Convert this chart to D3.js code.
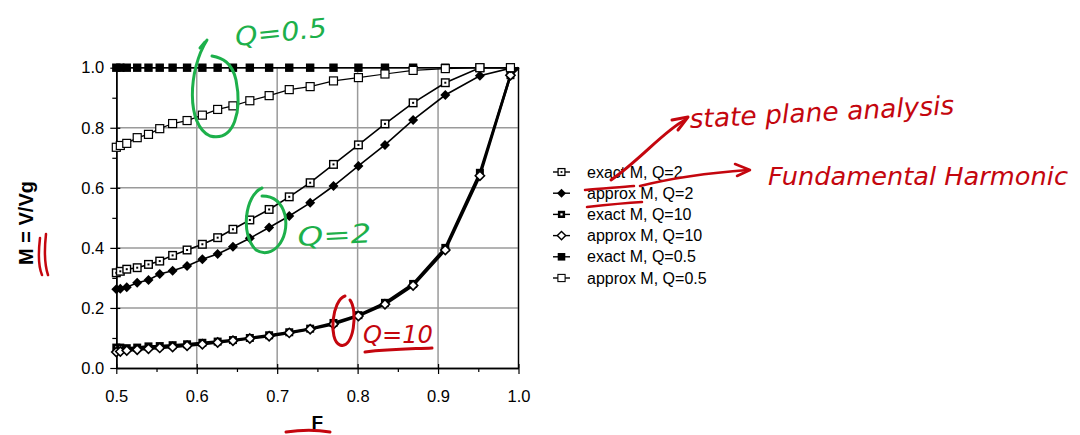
<!DOCTYPE html>
<html>
<head>
<meta charset="utf-8">
<script src="https://cdn.jsdelivr.net/npm/d3@7"></script>
<style>
  body { margin: 0; background: #fff; }
  svg { display: block; font-family: "Liberation Sans", Arial, sans-serif; }
  .hand { font-family: "DejaVu Sans", sans-serif; font-style: italic; }
</style>
</head>
<body>
<div id="chart"></div>
<script>
// normalized switching frequency F
var fValues = [0.500, 0.505, 0.513, 0.526, 0.540, 0.554, 0.570, 0.588, 0.607, 0.626, 0.645,
               0.666, 0.690, 0.715, 0.741, 0.770, 0.801, 0.834, 0.869, 0.909, 0.952, 0.990];

var exactQ2  = [0.317, 0.322, 0.329, 0.334, 0.345, 0.356, 0.375, 0.393, 0.412, 0.434, 0.462,
                0.493, 0.528, 0.570, 0.617, 0.678, 0.743, 0.813, 0.883, 0.950, 1.000, 1.000];
var approxQ2 = [0.262, 0.264, 0.269, 0.284, 0.293, 0.313, 0.324, 0.340, 0.362, 0.380, 0.404,
                0.432, 0.468, 0.506, 0.550, 0.606, 0.673, 0.743, 0.826, 0.909, 0.973, 0.998];
var exactQ10 = [0.068, 0.068, 0.066, 0.068, 0.072, 0.073, 0.076, 0.079, 0.084, 0.088, 0.093,
                0.100, 0.109, 0.119, 0.131, 0.150, 0.176, 0.217, 0.280, 0.400, 0.650, 0.975];
var approxQ10 = [0.053, 0.055, 0.058, 0.061, 0.064, 0.067, 0.070, 0.074, 0.079, 0.085, 0.091,
                 0.098, 0.106, 0.117, 0.129, 0.146, 0.173, 0.212, 0.275, 0.393, 0.640, 0.975];
var exactQ05 = [1, 1, 1, 1, 1, 1, 1, 1, 1, 1, 1, 1, 1, 1, 1, 1, 1, 1, 1, 1, 1, 1];
var approxQ05 = [0.735, 0.741, 0.748, 0.767, 0.778, 0.797, 0.814, 0.824, 0.842, 0.861, 0.873,
                 0.890, 0.907, 0.927, 0.937, 0.956, 0.967, 0.979, 0.991, 0.997, 1.000, 1.000];

var seriesNames = ["exact M, Q=2", "approx M, Q=2", "exact M, Q=10", "approx M, Q=10",
                   "exact M, Q=0.5", "approx M, Q=0.5"];
var xTicks = [0.5, 0.6, 0.7, 0.8, 0.9, 1.0];
var yTicks = [0.0, 0.2, 0.4, 0.6, 0.8, 1.0];

var W = 1080, H = 435;
var m = {left: 116.3, right: 518.5, top: 67.7, bottom: 368};

var svg = d3.select("#chart").append("svg").attr("width", W).attr("height", H);

var x = d3.scaleLinear().domain([0.5, 1.0]).range([m.left, m.right]);
var y = d3.scaleLinear().domain([0, 1]).range([m.bottom, m.top]);

// grid
var grid = svg.append("g");
grid.selectAll("line.gx").data(xTicks.slice(1)).enter().append("line")
    .attr("x1", d => x(d)).attr("x2", d => x(d))
    .attr("y1", m.top).attr("y2", m.bottom)
    .attr("stroke", "#9a9a9a").attr("stroke-width", 1.5);
grid.selectAll("line.gy").data(yTicks.slice(1)).enter().append("line")
    .attr("x1", m.left).attr("x2", m.right)
    .attr("y1", d => y(d)).attr("y2", d => y(d))
    .attr("stroke", "#9a9a9a").attr("stroke-width", 1.5);

// frame (right & top)
svg.append("path")
    .attr("d", "M" + m.left + "," + m.top + "H" + m.right + "V" + m.bottom)
    .attr("fill", "none").attr("stroke", "#000").attr("stroke-width", 1.3);

// axes
var xAxis = svg.append("g").attr("transform", "translate(0," + m.bottom + ")")
    .call(d3.axisBottom(x).tickValues(xTicks).tickFormat(d3.format(".1f")).tickSizeInner(6).tickSizeOuter(0));
var xMinor = svg.append("g").attr("transform", "translate(0," + m.bottom + ")")
    .call(d3.axisBottom(x).tickValues([0.55, 0.65, 0.75, 0.85, 0.95]).tickFormat("").tickSizeInner(4).tickSizeOuter(0));
var yAxis = svg.append("g").attr("transform", "translate(" + m.left + ",0)")
    .call(d3.axisLeft(y).tickValues(yTicks).tickFormat(d3.format(".1f")).tickSizeInner(6).tickSizeOuter(0));
var yMinor = svg.append("g").attr("transform", "translate(" + m.left + ",0)")
    .call(d3.axisLeft(y).tickValues([0.1, 0.3, 0.5, 0.7, 0.9]).tickFormat("").tickSizeInner(4).tickSizeOuter(0));

[xAxis, xMinor, yAxis, yMinor].forEach(function(a) {
    a.attr("font-size", null).attr("font-family", null);
    a.select(".domain").attr("stroke", "#000").attr("stroke-width", 1.5);
    a.selectAll(".tick line").attr("stroke", "#000").attr("stroke-width", 1.2);
    a.selectAll("text").style("font-size", "16.5px").attr("fill", "#000")
        .style("font-family", "Liberation Sans, Arial, sans-serif");
});
// major ticks cross the axis
xAxis.selectAll(".tick line").attr("y1", -4);
yAxis.selectAll(".tick line").attr("x1", 4);
xAxis.selectAll("text").attr("y", 22);
yAxis.selectAll("text").attr("x", -12);

// axis titles
svg.append("text").attr("x", x(0.75)).attr("y", 429).attr("text-anchor", "middle")
    .style("font-size", "19px").attr("font-weight", "bold").text("F");
svg.append("text").attr("transform", "translate(33,223) rotate(-90)")
    .attr("text-anchor", "middle").style("font-size", "20px").attr("font-weight", "bold").text("M = V/Vg");

// marker drawing
function drawMarker(g, type) {
    if (type === "sqDot") {
        g.append("rect").attr("x", -3.8).attr("y", -3.8).attr("width", 7.6).attr("height", 7.6)
            .attr("fill", "#fff").attr("stroke", "#000").attr("stroke-width", 1.4);
        g.append("rect").attr("x", -1).attr("y", -1).attr("width", 2).attr("height", 2).attr("fill", "#000");
    } else if (type === "diaFill") {
        g.append("path").attr("d", "M0,-5L5,0L0,5L-5,0Z").attr("fill", "#000");
    } else if (type === "sqBlackDot") {
        g.append("rect").attr("x", -4).attr("y", -4).attr("width", 8).attr("height", 8).attr("fill", "#000");
        g.append("rect").attr("x", -1.2).attr("y", -1.2).attr("width", 2.4).attr("height", 2.4).attr("fill", "#fff");
    } else if (type === "diaOpen") {
        g.append("path").attr("d", "M0,-4.6L4.6,0L0,4.6L-4.6,0Z")
            .attr("fill", "#fff").attr("stroke", "#000").attr("stroke-width", 1.6);
    } else if (type === "sqFill") {
        g.append("rect").attr("x", -4.2).attr("y", -4.2).attr("width", 8.4).attr("height", 8.4).attr("fill", "#000");
    } else if (type === "sqOpen") {
        g.append("rect").attr("x", -4).attr("y", -4).attr("width", 8).attr("height", 8)
            .attr("fill", "#fff").attr("stroke", "#000").attr("stroke-width", 1.2);
    }
}

var series = [
    {name: seriesNames[2], vals: exactQ10, marker: "sqBlackDot", lw: 2.6},
    {name: seriesNames[3], vals: approxQ10, marker: "diaOpen", lw: 2.6},
    {name: seriesNames[0], vals: exactQ2, marker: "sqDot", lw: 1.6},
    {name: seriesNames[1], vals: approxQ2, marker: "diaFill", lw: 1.6},
    {name: seriesNames[4], vals: exactQ05, marker: "sqFill", lw: 1.6},
    {name: seriesNames[5], vals: approxQ05, marker: "sqOpen", lw: 1.2}
];

var line = d3.line().x(d => x(d[0])).y(d => y(d[1]));
var plot = svg.append("g");
series.forEach(function(s) {
    var pts = fValues.map((f, i) => [f, s.vals[i]]);
    pts.push([1.0, 1.0]);
    plot.append("path").datum(pts).attr("d", line)
        .attr("fill", "none").attr("stroke", "#000").attr("stroke-width", s.lw);
});
series.forEach(function(s) {
    fValues.forEach(function(f, i) {
        var g = plot.append("g").attr("transform", "translate(" + x(f) + "," + y(s.vals[i]) + ")");
        drawMarker(g, s.marker);
    });
});

// legend
var legendMarkers = ["sqDot", "diaFill", "sqBlackDot", "diaOpen", "sqFill", "sqOpen"];
var legend = svg.append("g").attr("transform", "translate(553,172)");
seriesNames.forEach(function(n, i) {
    var row = legend.append("g").attr("transform", "translate(0," + (i * 21.2) + ")");
    row.append("line").attr("x1", 0).attr("x2", 17).attr("stroke", "#000").attr("stroke-width", 1.4);
    var mk = row.append("g").attr("transform", "translate(8.5,0) scale(0.9)");
    drawMarker(mk, legendMarkers[i]);
    row.append("text").attr("x", 34).attr("y", 5.5).style("font-size", "16px").text(n);
});

// handwritten annotations
var green = "#1db04b", red = "#c4060e";
function stroke(d, c, w) {
    svg.append("path").attr("d", d).attr("fill", "none").attr("stroke", c)
        .attr("stroke-width", w || 3).attr("stroke-linecap", "round").attr("stroke-linejoin", "round");
}
function hand(txt, tx, ty, c, size, rot, len) {
    var t = svg.append("text").attr("class", "hand")
        .attr("transform", "translate(" + tx + "," + ty + ") rotate(" + (rot || 0) + ")")
        .attr("fill", c).style("font-size", size + "px").text(txt);
    if (len) t.attr("textLength", len).attr("lengthAdjust", "spacingAndGlyphs");
}
// Q=0.5 loop and label
stroke("M207,40 C188,70 186,125 210,136 C235,142 242,110 236,80 C232,62 222,58 212,56", green);
stroke("M205,42 L200,48", green);
hand("Q=0.5", 236, 46, green, 26, -6, 92);
// Q=2 loop and label
stroke("M262,188 C245,195 240,235 256,250 C272,260 290,240 285,215 C281,200 272,196 262,196", green);
hand("Q=2", 298, 246, green, 26, -3, 74);
// Q=10 loop, label and underline
stroke("M345,296 C332,300 328,340 340,345 C354,350 358,310 350,300", red);
hand("Q=10", 363, 343, red, 24, 0, 70);
stroke("M365,352 C390,349 410,349 432,348", red);
// legend underlines and arrows
stroke("M585,190 C600,189 620,187 634,186", red, 2.5);
stroke("M587,207 C605,205 625,203 642,202", red, 2.5);
stroke("M611,180 C640,160 665,130 685,120", red, 3);
stroke("M672,120 L688,117 L678,130", red, 3);
stroke("M640,186 C680,176 720,172 748,170", red, 2.5);
stroke("M735,164 L750,170 L737,176", red, 2.5);
hand("state plane analysis", 690, 128, red, 26, -3, 265);
hand("Fundamental Harmonic", 768, 185, red, 25, 0, 300);
// marks near axis titles
stroke("M40,238 C38,255 39,268 42,275", red, 2.5);
stroke("M46,234 C44,252 45,266 48,275", red, 2.5);
stroke("M286,432 C300,430 318,430 330,432", red, 3);
</script>
</body>
</html>
